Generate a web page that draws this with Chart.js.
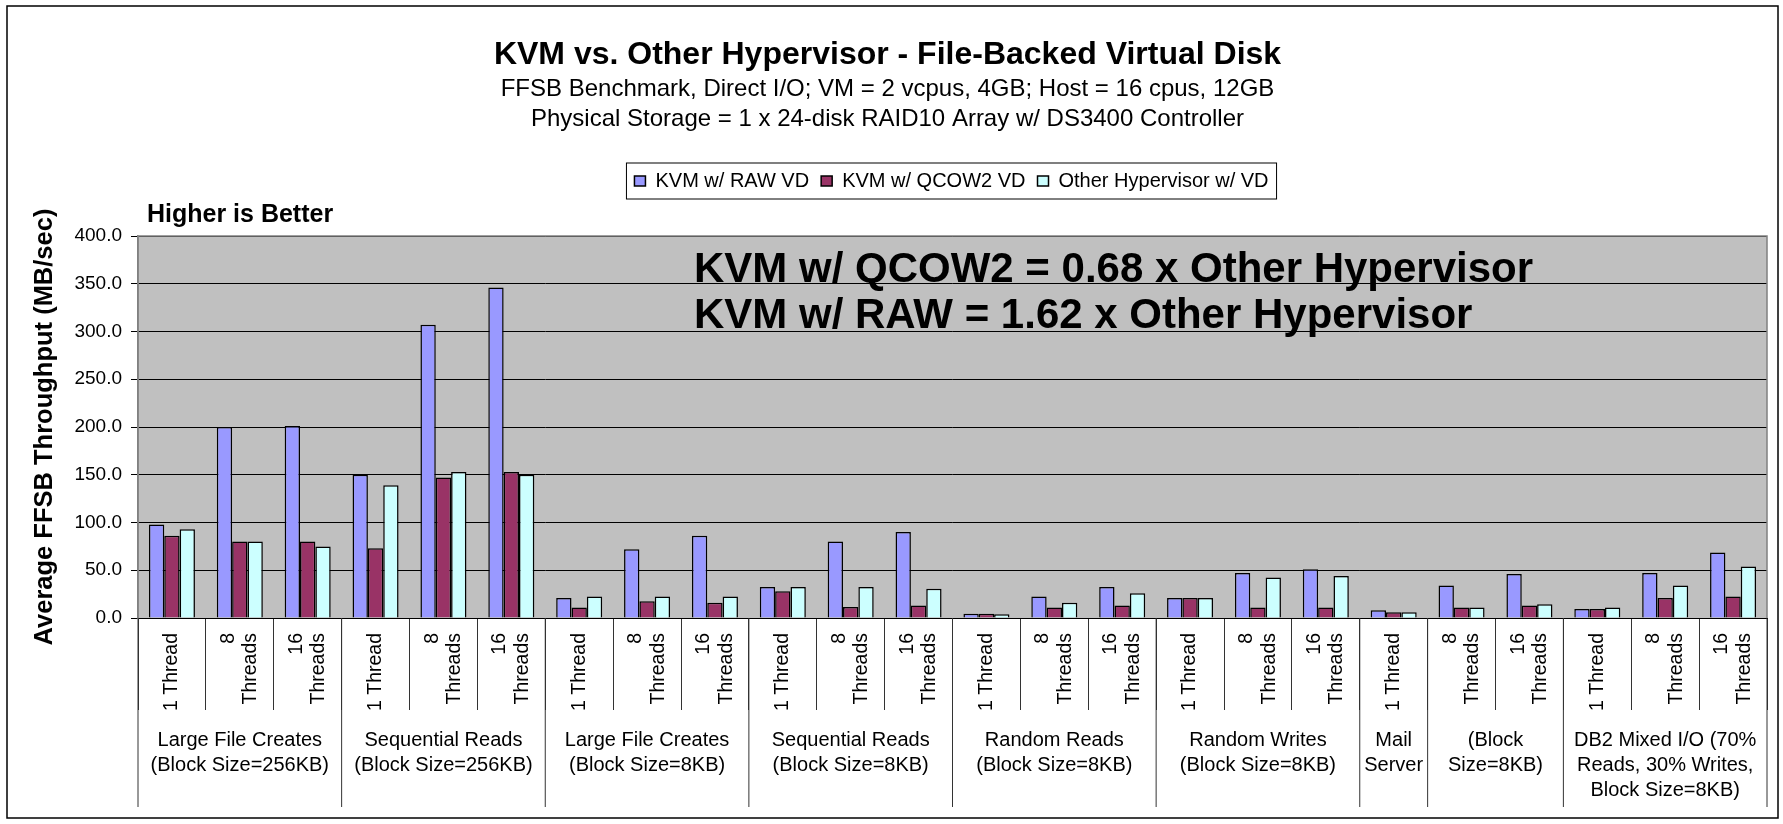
<!DOCTYPE html>
<html lang="en">
<head>
    <meta charset="UTF-8">
    <title>KVM vs. Other Hypervisor - File-Backed Virtual Disk</title>
    <script src="https://cdn.jsdelivr.net/npm/chart.js"></script>
    <style>
        body {
            margin: 0;
            background: #fff;
            overflow: hidden;
        }
        .chart-box {
            width: 1783px;
            height: 824px;
        }
    </style>
</head>
<body>
    <div class="chart-box"><canvas id="ffsbChart"></canvas></div>

    <script>
        // one entry per bar cluster (thread count)
        const threadLabels = [
            ['1 Thread'], ['8', 'Threads'], ['16', 'Threads'],
            ['1 Thread'], ['8', 'Threads'], ['16', 'Threads'],
            ['1 Thread'], ['8', 'Threads'], ['16', 'Threads'],
            ['1 Thread'], ['8', 'Threads'], ['16', 'Threads'],
            ['1 Thread'], ['8', 'Threads'], ['16', 'Threads'],
            ['1 Thread'], ['8', 'Threads'], ['16', 'Threads'],
            ['1 Thread'],
            ['8', 'Threads'], ['16', 'Threads'],
            ['1 Thread'], ['8', 'Threads'], ['16', 'Threads']
        ];

        // workload groups under the thread labels and how many clusters each covers
        const groupLabels = [
            ['Large File Creates', '(Block Size=256KB)'],
            ['Sequential Reads', '(Block Size=256KB)'],
            ['Large File Creates', '(Block Size=8KB)'],
            ['Sequential Reads', '(Block Size=8KB)'],
            ['Random Reads', '(Block Size=8KB)'],
            ['Random Writes', '(Block Size=8KB)'],
            ['Mail', 'Server'],
            ['(Block', 'Size=8KB)'],
            ['DB2 Mixed I/O (70%', 'Reads, 30% Writes,', 'Block Size=8KB)']
        ];
        const groupSizes = [3, 3, 3, 3, 3, 3, 1, 2, 3];

        const seriesNames = ['KVM w/ RAW VD', 'KVM w/ QCOW2 VD', 'Other Hypervisor w/ VD'];
        const rawVD   = [98, 200, 201, 150, 307, 346, 21, 72, 86, 32.5, 80, 90, 4.5, 22.5, 32.5, 21, 47, 51, 8, 34, 46, 9.5, 47, 68.5];
        const qcow2VD = [86, 80, 80, 73, 147, 153, 11, 17.5, 16, 28, 11.5, 13, 4.5, 11, 13, 21, 11, 11, 6, 11, 13, 9.5, 21, 22.5];
        const otherVD = [93, 80, 75, 139, 153, 150, 22.5, 22.5, 22.5, 32.5, 32.5, 30.5, 4, 16, 26, 21, 42.5, 44, 6, 11, 14.5, 11, 34, 54];

        const yMax = 400;
        const yStep = 50;

        const titleText = 'KVM vs. Other Hypervisor - File-Backed Virtual Disk';
        const subtitleText = [
            'FFSB Benchmark, Direct I/O; VM = 2 vcpus, 4GB; Host = 16 cpus, 12GB',
            'Physical Storage = 1 x 24-disk RAID10 Array w/ DS3400 Controller'
        ];
        const yTitle = 'Average FFSB Throughput (MB/sec)';
        const cornerNote = 'Higher is Better';
        const summaryLines = [
            'KVM w/ QCOW2 = 0.68 x Other Hypervisor',
            'KVM w/ RAW = 1.62 x Other Hypervisor'
        ];

        const FONT = '"Liberation Sans", Arial, sans-serif';
        const LEGEND_SHIFT = 64;   // legend sits right of centre in the original

        Chart.defaults.font.family = FONT;
        Chart.defaults.color = '#000';

        const decorPlugin = {
            id: 'decor',
            afterLayout(chart) {
                chart.legend.left += LEGEND_SHIFT;
                chart.legend.right += LEGEND_SHIFT;
            },
            beforeDraw(chart) {
                const { ctx, chartArea: a } = chart;
                ctx.save();
                ctx.fillStyle = '#fff';
                ctx.fillRect(0, 0, chart.width, chart.height);
                ctx.fillStyle = '#c0c0c0';
                ctx.fillRect(a.left, a.top, a.right - a.left, a.bottom - a.top);
                ctx.strokeStyle = '#000';
                ctx.lineWidth = 1.5;
                ctx.strokeRect(7, 6, chart.width - 12, chart.height - 12);
                ctx.restore();
            },
            beforeDatasetsDraw(chart) {
                // grey plot-area frame
                const { ctx, chartArea: a } = chart;
                ctx.save();
                ctx.strokeStyle = '#808080';
                ctx.lineWidth = 1.5;
                ctx.beginPath();
                ctx.moveTo(a.left, a.bottom);
                ctx.lineTo(a.left, a.top);
                ctx.lineTo(a.right, a.top);
                ctx.lineTo(a.right, a.bottom);
                ctx.stroke();
                ctx.restore();
            },
            afterDraw(chart) {
                const { ctx } = chart;
                const xs = chart.scales.x;
                const w = (xs.right - xs.left) / chart.data.labels.length;

                ctx.save();

                // frame round the legend
                const hb = chart.legend.legendHitBoxes;
                const l = Math.min(...hb.map(b => b.left)) - 8;
                const r = Math.max(...hb.map(b => b.left + b.width)) + 8;
                const cy = hb[0].top + hb[0].height / 2;
                ctx.strokeStyle = '#000';
                ctx.lineWidth = 1;
                ctx.strokeRect(l, cy - 18, r - l, 36);

                // rotated thread labels, clipped to the tick band like the original
                ctx.save();
                ctx.beginPath();
                ctx.rect(xs.left, xs.top, xs.right - xs.left, 92);
                ctx.clip();
                ctx.fillStyle = '#000';
                ctx.font = '19.5px ' + FONT;
                ctx.textAlign = 'right';
                ctx.textBaseline = 'middle';
                chart.data.labels.forEach((lines, i) => {
                    const x = xs.getPixelForTick(i);
                    lines.forEach((txt, j) => {
                        ctx.save();
                        ctx.translate(x + (j - (lines.length - 1) / 2) * 22.5, xs.top + 15);
                        ctx.rotate(-Math.PI / 2);
                        ctx.fillText(txt, 0, 0);
                        ctx.restore();
                    });
                });
                ctx.restore();

                // group labels and separators
                ctx.fillStyle = '#000';
                ctx.font = '20px ' + FONT;
                ctx.textAlign = 'center';
                ctx.textBaseline = 'middle';
                ctx.strokeStyle = '#333';
                ctx.lineWidth = 1;
                ctx.beginPath();
                let k = 0;
                groupSizes.forEach((size, g) => {
                    const x0 = xs.left + k * w;
                    const x1 = x0 + size * w;
                    groupLabels[g].forEach((txt, j) => {
                        ctx.fillText(txt, (x0 + x1) / 2, 740 + j * 25);
                    });
                    ctx.moveTo(x0, xs.top);
                    ctx.lineTo(x0, 807);
                    k += size;
                });
                ctx.moveTo(xs.right, xs.top);
                ctx.lineTo(xs.right, 807);
                ctx.stroke();

                // notes
                ctx.textAlign = 'left';
                ctx.font = 'bold 25px ' + FONT;
                ctx.fillText(cornerNote, 147, 215);
                ctx.font = 'bold 42px ' + FONT;
                ctx.fillText(summaryLines[0], 694, 270.5);
                ctx.fillText(summaryLines[1], 694, 316);

                ctx.restore();
            }
        };

        const colors = ['#9999ff', '#993366', '#ccffff'];
        const seriesData = [rawVD, qcow2VD, otherVD];

        new Chart(document.getElementById('ffsbChart'), {
            type: 'bar',
            data: {
                labels: threadLabels,
                datasets: seriesNames.map((name, i) => ({
                    label: name,
                    data: seriesData[i],
                    xAxisID: 'x',
                    yAxisID: 'y',
                    backgroundColor: colors[i],
                    borderColor: '#000',
                    borderWidth: 1.5,
                    categoryPercentage: 0.678,
                    barPercentage: 1.0
                }))
            },
            options: {
                responsive: true,
                maintainAspectRatio: false,
                animation: false,
                layout: {
                    padding: { top: 0, left: 8, right: 16, bottom: 6 }
                },
                plugins: {
                    title: {
                        display: true,
                        text: titleText,
                        color: '#000',
                        font: { size: 32, weight: 'bold', lineHeight: 1.2 },
                        padding: { top: 35.5, bottom: 0 }
                    },
                    subtitle: {
                        display: true,
                        text: subtitleText,
                        color: '#000',
                        font: { size: 24, lineHeight: 30 / 24 },
                        padding: { top: 0.6, bottom: 24.5 }
                    },
                    legend: {
                        display: true,
                        position: 'top',
                        labels: {
                            color: '#000',
                            font: { size: 20 },
                            boxWidth: 11,
                            boxHeight: 10,
                            padding: 12
                        }
                    },
                    tooltip: { enabled: false }
                },
                scales: {
                    x: {
                        type: 'category',
                        position: 'bottom',
                        grid: {
                            display: true,
                            drawOnChartArea: false,
                            drawTicks: true,
                            tickLength: 92,
                            color: '#333',
                            lineWidth: 1
                        },
                        border: { display: true, color: '#000' },
                        ticks: { display: false, autoSkip: false },
                        afterFit(scale) { scale.height = 200; }
                    },
                    xTop: {
                        // spacer between legend and plot, as in the original
                        type: 'category',
                        position: 'top',
                        grid: { display: false, drawTicks: false },
                        border: { display: false },
                        ticks: { display: false },
                        afterFit(scale) { scale.height = 35; }
                    },
                    y: {
                        position: 'left',
                        min: 0,
                        max: yMax,
                        ticks: {
                            stepSize: yStep,
                            padding: 9,
                            font: { size: 19 },
                            color: '#000',
                            callback: v => v.toFixed(1)
                        },
                        grid: {
                            color: '#000',
                            lineWidth: 1,
                            drawTicks: true,
                            tickLength: 7
                        },
                        border: { display: true, color: '#808080', width: 1.5 },
                        title: {
                            display: true,
                            text: yTitle,
                            color: '#000',
                            font: { size: 25.5, weight: 'bold', lineHeight: 1.2 },
                            padding: { top: 21.7, bottom: 0 }
                        },
                        afterFit(scale) { scale.width = 130; }
                    }
                }
            },
            plugins: [decorPlugin]
        });
    </script>
</body>
</html>
